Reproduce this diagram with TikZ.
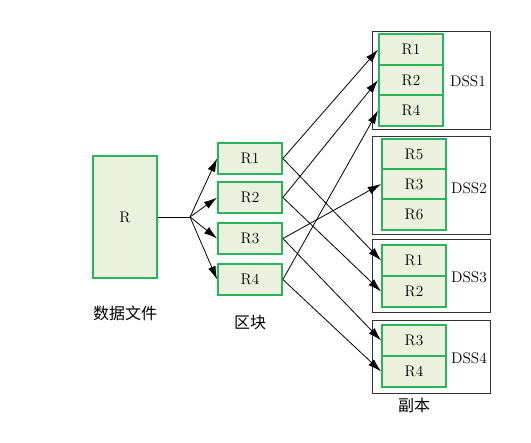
\documentclass[tikz,border=0pt]{standalone}
\usepackage{fontspec}
\newfontfamily\cjk{Noto Sans CJK SC}
\usepackage{tikz}
\usetikzlibrary{arrows.meta}
\definecolor{boxgreen}{RGB}{40,180,90}
\definecolor{boxfill}{RGB}{235,241,222}

\tikzset{
  cell/.style={draw=boxgreen,fill=boxfill,line width=1.3pt,inner sep=0pt,
    minimum width=48pt,minimum height=23pt,font=\fontsize{11.5}{13}\selectfont},
  dss/.style={draw=black!80,line width=0.7pt,inner sep=0pt,minimum width=89pt},
  lbl/.style={font=\fontsize{11.5}{13}\selectfont},
  cn/.style={font=\cjk\fontsize{12}{14}\selectfont},
  arr/.style={-{Latex[length=10pt,width=6pt]},line width=0.6pt},
}

\begin{document}
\begin{tikzpicture}[x=0.75pt,y=-0.75pt]
    \useasboundingbox (0,0) rectangle (531,442);
    % data file
    \node[cell,minimum height=91.5pt] (file) at (125,217) {R};
    \node[cn] (filetxt) at (125,313) {数据文件};
    \coordinate (br) at (190,217);
    % blocks
    \node[cell] (b1) at (250,158.5) {R1};
    \node[cell] (b2) at (250,197.5) {R2};
    \node[cell] (b3) at (250,238.5) {R3};
    \node[cell] (b4) at (250,279.5) {R4};
    \node[cn] (blktxt) at (250,323) {区块};
    % data servers
    \node[dss,minimum height=73.5pt] (dss1) at (431.5,80) {};
    \node[dss,minimum height=73.5pt] (dss2) at (431.5,185) {};
    \node[dss,minimum height=54.75pt] (dss3) at (431.5,275.5) {};
    \node[dss,minimum height=54.75pt] (dss4) at (431.5,356.5) {};
    \node[lbl] (l1) at (468,81) {DSS1};
    \node[lbl] (l2) at (469,188) {DSS2};
    \node[lbl] (l3) at (469,277) {DSS3};
    \node[lbl] (l4) at (469,358) {DSS4};
    % replicas
    \node[cell] (d1r1) at (411,49.5) {R1};
    \node[cell] (d1r2) at (411,80) {R2};
    \node[cell] (d1r4) at (411,110.5) {R4};
    \node[cell] (d2r5) at (414,154) {R5};
    \node[cell] (d2r3) at (414,184) {R3};
    \node[cell] (d2r6) at (414,214.5) {R6};
    \node[cell] (d3r1) at (414,260.5) {R1};
    \node[cell] (d3r2) at (414,291.5) {R2};
    \node[cell] (d4r3) at (414,340.5) {R3};
    \node[cell] (d4r4) at (414,371.5) {R4};
    \node[cn] (reptxt) at (414,405) {副本};
    % split
    \draw[line width=0.6pt] (file.east) -- (br);
    \draw[arr] (br) -- (b1.west);
    \draw[arr] (br) -- (b2.west);
    \draw[arr] (br) -- (b3.west);
    \draw[arr] (br) -- (b4.west);
    % copies
    \draw[arr] (b1.east) -- (d1r1.west);
    \draw[arr] (b1.east) -- (d3r1.west);
    \draw[arr] (b2.east) -- (d1r2.west);
    \draw[arr] (b2.east) -- (d3r2.west);
    \draw[arr] (b3.east) -- (d2r3.west);
    \draw[arr] (b3.east) -- (d4r3.west);
    \draw[arr] (b4.east) -- (d1r4.west);
    \draw[arr] (b4.east) -- (d4r4.west);
\end{tikzpicture}
\end{document}
